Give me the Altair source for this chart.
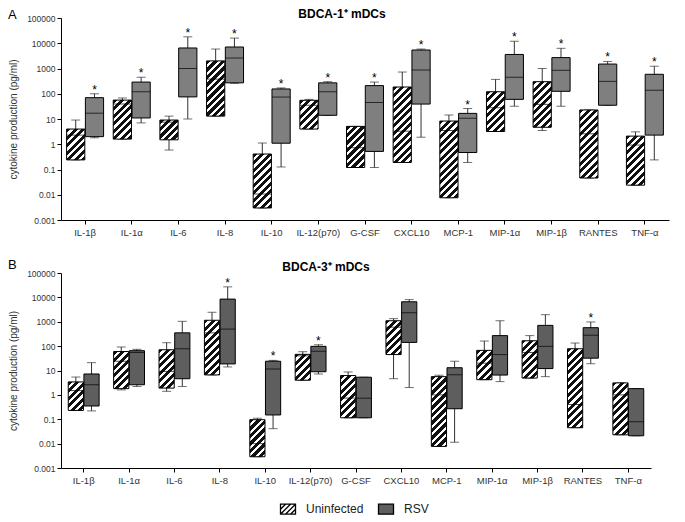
import math
import altair as alt
import pandas as pd

cats = ["IL-1β", "IL-1α", "IL-6", "IL-8", "IL-10", "IL-12(p70)", "G-CSF",
        "CXCL10", "MCP-1", "MIP-1α", "MIP-1β", "RANTES", "TNF-α"]
groups = ["Uninfected", "RSV"]

# ---- Panel A (BDCA-1+ mDCs) ----
a_un_lo  = [0.24, 1.6, 0.59, 13, 0.003, 4, 0.12, 0.19, 0.0076, 3.2, 3.5, 0.046, 0.024]
a_un_q1  = [0.24, 1.6, 1.5, 13, 0.003, 4, 0.12, 0.19, 0.0076, 3.2, 4.7, 0.046, 0.024]
a_un_med = [2.3, 39, 7.5, 380, 0.0107, 35, 0.73, 3.3, 3.5, 28, 38, 2.6, 0.93]
a_un_q3  = [4.0, 56, 9.1, 2000, 0.41, 55, 5.1, 185, 8.3, 120, 300, 22.8, 2.1]
a_un_hi  = [9.1, 68, 13, 5900, 1.12, 60, 5.1, 725, 14.4, 370, 1000, 22.8, 3.1]

a_rsv_lo  = [1.8, 7, 10, 260, 0.126, 14, 0.12, 1.9, 0.19, 32, 32, 35, 0.24]
a_rsv_q1  = [2.0, 11, 75, 270, 1.1, 14, 0.52, 39, 0.47, 60, 125, 35, 2.3]
a_rsv_med = [17, 120, 1000, 2600, 74, 120, 45, 870, 10.7, 450, 850, 310, 138]
a_rsv_q3  = [70, 290, 6500, 7100, 155, 270, 210, 5400, 16.7, 3600, 2700, 1500, 590]
a_rsv_hi  = [100, 450, 18000, 16000, 170, 300, 290, 5900, 26, 12000, 6300, 1900, 1230]
a_star    = [1, 1, 1, 1, 1, 1, 1, 1, 1, 1, 1, 1, 1]

# ---- Panel B (BDCA-3+ mDCs) ----
b_un_lo  = [0.23, 1.6, 1.4, 6.6, 0.0029, 4, 0.115, 4.6, 0.0077, 4.2, 4.9, 0.045, 0.023]
b_un_q1  = [0.23, 1.8, 1.9, 6.6, 0.0029, 4, 0.115, 45, 0.0077, 4.2, 4.9, 0.045, 0.023]
b_un_med = [1.5, 24, 9.2, 350, 0.01, 40, 0.74, 600, 1.0, 20, 55, 0.4, 1.0]
b_un_q3  = [3.4, 60, 71, 1150, 0.096, 46, 6.2, 1100, 5.6, 67, 166, 78, 3.1]
b_un_hi  = [5.4, 92, 138, 2450, 0.11, 59, 8.7, 1340, 6.4, 162, 270, 134, 3.1]

b_rsv_lo  = [0.22, 2.2, 2.2, 14, 0.041, 7.2, 0.115, 2, 0.0114, 3.5, 5.6, 19, 0.021]
b_rsv_q1  = [0.35, 2.6, 4.6, 18.6, 0.15, 8.9, 0.115, 142, 0.27, 6.5, 12, 32, 0.021]
b_rsv_med = [2.6, 55, 78, 500, 11.5, 61, 0.73, 2350, 6.7, 45, 98, 280, 0.079]
b_rsv_q3  = [7.2, 65, 350, 8500, 24, 98, 5.3, 6600, 13, 270, 710, 570, 1.8]
b_rsv_hi  = [21, 74, 1040, 27000, 26, 115, 5.3, 8100, 24, 1100, 1950, 980, 1.8]
b_star    = [0, 0, 0, 1, 1, 1, 0, 0, 0, 0, 0, 1, 0]

y_ticks = [0.001, 0.01, 0.1, 1, 10, 100, 1000, 10000, 100000]

FONT = "Liberation Sans, Arial, sans-serif"
HATCH_PATH = ("M-1.5,-1H1.5V1H-1.5Z M-1.5,0L-0.5,-1 M-1.5,1L0.5,-1 "
              "M-0.5,1L1.5,-1 M0.5,1L1.5,0")
RECT_PATH = "M-1.5,-1H1.5V1H-1.5Z"


def hatch_gradient(w, h, period=7.5, frac=0.55):
    L = w + h
    s = w * (w + h) / (w * w + h * h)
    stops = []
    k = 0
    while k * period < L:
        a = k * period / L
        b = min((k * period + frac * period) / L, 1.0)
        c = min((k + 1) * period / L, 1.0)
        stops += [(a, "#111111"), (b, "#111111"), (b, "#ffffff"), (c, "#ffffff")]
        k += 1
    return alt.LinearGradient(
        gradient="linear",
        stops=[alt.GradientStop(color=col, offset=round(off, 5)) for off, col in stops],
        x1=0, y1=0, x2=s, y2=s * h / w,
    )


def make_panel(un, rsv, stars, W, H, pi, po, rsv_color, title, title_x, title_y,
               letter, letter_y, legend=False):
    rows = []
    for gname, g in (("Uninfected", un), ("RSV", rsv)):
        lo, q1, med, q3, hi = g
        for i, c in enumerate(cats):
            rows.append(dict(cat=c, group=gname, key=f"{gname}{i}",
                             lo=lo[i], q1=q1[i], med=med[i], q3=q3[i], hi=hi[i],
                             star=(stars[i] if gname == "RSV" else 0),
                             nullv=None))
    df = pd.DataFrame(rows)

    pio = 0.03
    step = W / (len(cats) - pi + 2 * po)
    bw = step * (1 - pi)
    sub_bw = bw / (2 - pio) * (1 - pio)

    x = alt.X("cat:N", sort=cats,
              scale=alt.Scale(domain=cats, paddingInner=pi, paddingOuter=po),
              axis=alt.Axis(title=None, labelAngle=0, labelFontSize=9.5, tickSize=4,
                            labelPadding=3, labelColor="#333333", labelFont=FONT,
                            domainColor="black", tickColor="black"))
    xo = alt.XOffset("group:N", sort=groups,
                     scale=alt.Scale(domain=groups, paddingInner=pio, paddingOuter=0))

    def Y(field):
        return alt.Y(f"{field}:Q",
                     scale=alt.Scale(type="log", domain=[0.001, 100000], nice=False),
                     axis=alt.Axis(values=y_ticks, format="~g", grid=False,
                                   title="cytokine production (pg/ml)",
                                   titleFontSize=10, titleFontWeight="normal",
                                   titleColor="#333333", titleFont=FONT,
                                   titleX=-43, titleY=H / 2, titleAngle=270,
                                   labelFontSize=8.5, labelFont=FONT,
                                   labelColor="#333333", tickSize=4, labelPadding=2,
                                   domainColor="black", tickColor="black"))

    base = alt.Chart(df)
    layers = []
    layers.append(base.mark_rule(color="#333333", strokeWidth=1)
                  .encode(x=x, xOffset=xo, y=Y("lo"), y2="hi:Q"))
    layers.append(base.mark_tick(color="#333333", thickness=1, size=9)
                  .encode(x=x, xOffset=xo, y=Y("hi")))
    layers.append(base.mark_tick(color="#333333", thickness=1, size=9)
                  .encode(x=x, xOffset=xo, y=Y("lo")))
    layers.append(base.transform_filter(alt.datum.group == "RSV")
                  .mark_bar(fill=rsv_color, stroke="black", strokeWidth=1)
                  .encode(x=x, xOffset=xo, y=Y("q1"), y2="q3:Q"))
    lo, q1, med, q3, hi = un
    for i in range(len(cats)):
        h = (math.log10(q3[i]) - math.log10(q1[i])) * H / 8.0
        h = max(h, 1.0)
        grad = hatch_gradient(sub_bw, h)
        layers.append(base.transform_filter(alt.datum.key == f"Uninfected{i}")
                      .mark_bar(fill=grad, stroke="black", strokeWidth=1)
                      .encode(x=x, xOffset=xo, y=Y("q1"), y2="q3:Q"))
    layers.append(base.mark_tick(color="black", thickness=1, size=sub_bw)
                  .encode(x=x, xOffset=xo, y=Y("med")))
    layers.append(base.transform_filter(alt.datum.star == 1)
                  .mark_text(text="*", fontSize=12, font=FONT, color="black",
                             baseline="alphabetic", dy=0)
                  .encode(x=x, xOffset=xo, y=Y("hi")))

    tdf = pd.DataFrame({"t": [title]})
    layers.append(alt.Chart(tdf).mark_text(font=FONT, fontSize=12, fontWeight="bold",
                                           align="center", baseline="alphabetic",
                                           color="black")
                  .encode(text="t:N", x=alt.value(title_x), y=alt.value(title_y)))
    ldf = pd.DataFrame({"t": [letter]})
    layers.append(alt.Chart(ldf).mark_text(font=FONT, fontSize=13, align="left",
                                           baseline="alphabetic", color="black")
                  .encode(text="t:N", x=alt.value(-53), y=alt.value(letter_y)))

    if legend:
        leg = alt.Legend(title=None, orient="none", legendX=221, legendY=230,
                         direction="horizontal", symbolSize=100,
                         symbolStrokeColor="black", symbolStrokeWidth=1.3,
                         labelFontSize=12, labelFont=FONT, labelColor="#222222",
                         labelOffset=12, columnPadding=11, padding=0,
                         labelExpr="datum.label == 'RSV' ? '\u00a0\u00a0\u00a0RSV' : datum.label")
        layers.append(alt.Chart(df).mark_point(filled=True, size=100,
                                               strokeWidth=1.3, opacity=1)
                      .encode(x=x, xOffset=xo, y=Y("nullv"),
                              fill=alt.Fill("group:N", sort=groups,
                                            scale=alt.Scale(domain=groups,
                                                            range=["white", rsv_color]),
                                            legend=leg),
                              stroke=alt.Stroke("group:N", sort=groups,
                                                scale=alt.Scale(domain=groups,
                                                                range=["black", "black"]),
                                                legend=leg),
                              shape=alt.Shape("group:N", sort=groups,
                                              scale=alt.Scale(domain=groups,
                                                              range=[HATCH_PATH, RECT_PATH]),
                                              legend=leg)))

    return alt.layer(*layers).properties(width=W, height=H)


panelA = make_panel((a_un_lo, a_un_q1, a_un_med, a_un_q3, a_un_hi),
                    (a_rsv_lo, a_rsv_q1, a_rsv_med, a_rsv_q3, a_rsv_hi),
                    a_star, 608, 202, 0.207, 0.12, "#7f7f7f",
                    "BDCA-1⁺ mDCs", 281, 0, "A", 1)
panelB = make_panel((b_un_lo, b_un_q1, b_un_med, b_un_q3, b_un_hi),
                    (b_rsv_lo, b_rsv_q1, b_rsv_med, b_rsv_q3, b_rsv_hi),
                    b_star, 590, 195, 0.32, 0.16, "#5e5e5e",
                    "BDCA-3⁺ mDCs", 265, -2, "B", -4, legend=True)

chart = (alt.vconcat(panelA, panelB, spacing=53, bounds="flush")
         .resolve_scale(x="independent", y="independent", xOffset="independent",
                        fill="independent", stroke="independent", shape="independent")
         .properties(padding={"left": 0, "top": 0, "right": 5, "bottom": 5},
                     background="white")
         .configure_view(stroke=None))

chart.save("out.html", embed_options={"renderer": "svg", "actions": False})
